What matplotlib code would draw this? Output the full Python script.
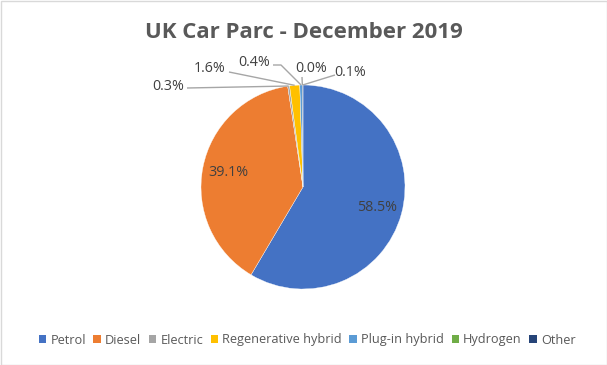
import matplotlib
matplotlib.use("Agg")
import matplotlib.pyplot as plt
from matplotlib.patches import Patch, Rectangle
import numpy as np

categories = ["Petrol", "Diesel", "Electric", "Regenerative hybrid",
              "Plug-in hybrid", "Hydrogen", "Other"]
values = [58.5, 39.1, 0.3, 1.6, 0.4, 0.0, 0.1]
label_texts = ["58.5%", "39.1%", "0.3%", "1.6%", "0.4%", "0.0%", "0.1%"]
colors = ["#4472C4", "#ED7D31", "#A5A5A5", "#FFC000", "#5B9BD5", "#70AD47", "#264478"]
title = "UK Car Parc - December 2019"

W, H = 607, 365
fig = plt.figure(figsize=(W / 100, H / 100), dpi=100)
ax = fig.add_axes([0, 0, 1, 1])
ax.set_xlim(0, W)
ax.set_ylim(0, H)
ax.axis("off")

FONT = "Open Sans"
LFS = 10.3
cx, cy, R = 303, H - 187, 102

wedges, _ = ax.pie(values, colors=colors, startangle=90, counterclock=False,
                   center=(cx, cy), radius=R, normalize=True,
                   wedgeprops=dict(edgecolor="white", linewidth=0.25))
ax.set_xlim(0, W)
ax.set_ylim(0, H)
ax.set_aspect("equal")

txt_color = "#404040"
# big slices: labels inside
for i in (0, 1):
    w = wedges[i]
    ang = np.deg2rad((w.theta1 + w.theta2) / 2)
    ax.text(cx + 0.75 * R * np.cos(ang), cy + 0.75 * R * np.sin(ang), label_texts[i],
            ha="center", va="center", fontsize=LFS, color=txt_color, family=FONT)

# small slices: outside labels with leader lines (pixel positions, y from top)
label_pos = {2: (168, 86), 3: (210, 69), 4: (254, 62), 5: (311, 69), 6: (350, 73)}
line_start = {2: [(187, 88)], 3: [(229, 72)], 4: [(273, 65), (281, 65)],
              5: [(302, 77)], 6: [(335, 75)]}
lc = "#A6A6A6"
for i, (lx, ly) in label_pos.items():
    ax.text(lx, H - ly, label_texts[i], ha="center", va="center", fontsize=LFS,
            color=txt_color, family=FONT)
    w = wedges[i]
    ang = np.deg2rad((w.theta1 + w.theta2) / 2)
    ex, ey = cx + R * np.cos(ang), cy + R * np.sin(ang)
    pts = [(x, H - y) for x, y in line_start[i]] + [(ex, ey)]
    xs, ys = zip(*pts)
    ax.plot(xs, ys, color=lc, lw=1.0, solid_capstyle="butt")

fig.text(0.5, 1 - 32 / H, title, ha="center", va="center", fontsize=16,
         fontweight="bold", color="#595959", family=FONT)

handles = [Patch(facecolor=c, edgecolor="none") for c in colors]
fig.legend(handles, categories, loc="center", bbox_to_anchor=(0.506, 1 - 340 / H),
           ncol=7, frameon=False, handlelength=0.6, handleheight=0.6,
           handletextpad=0.3, columnspacing=0.6, borderaxespad=0,
           prop=dict(family=FONT, size=9.2), labelcolor="#595959")

fig.patches.append(Rectangle((0.5 / W, 0.5 / H), 1 - 1 / W, 1 - 1 / H,
                             transform=fig.transFigure, fill=False,
                             edgecolor="#D9D9D9", lw=1))
fig.savefig("out.png", dpi=100)
